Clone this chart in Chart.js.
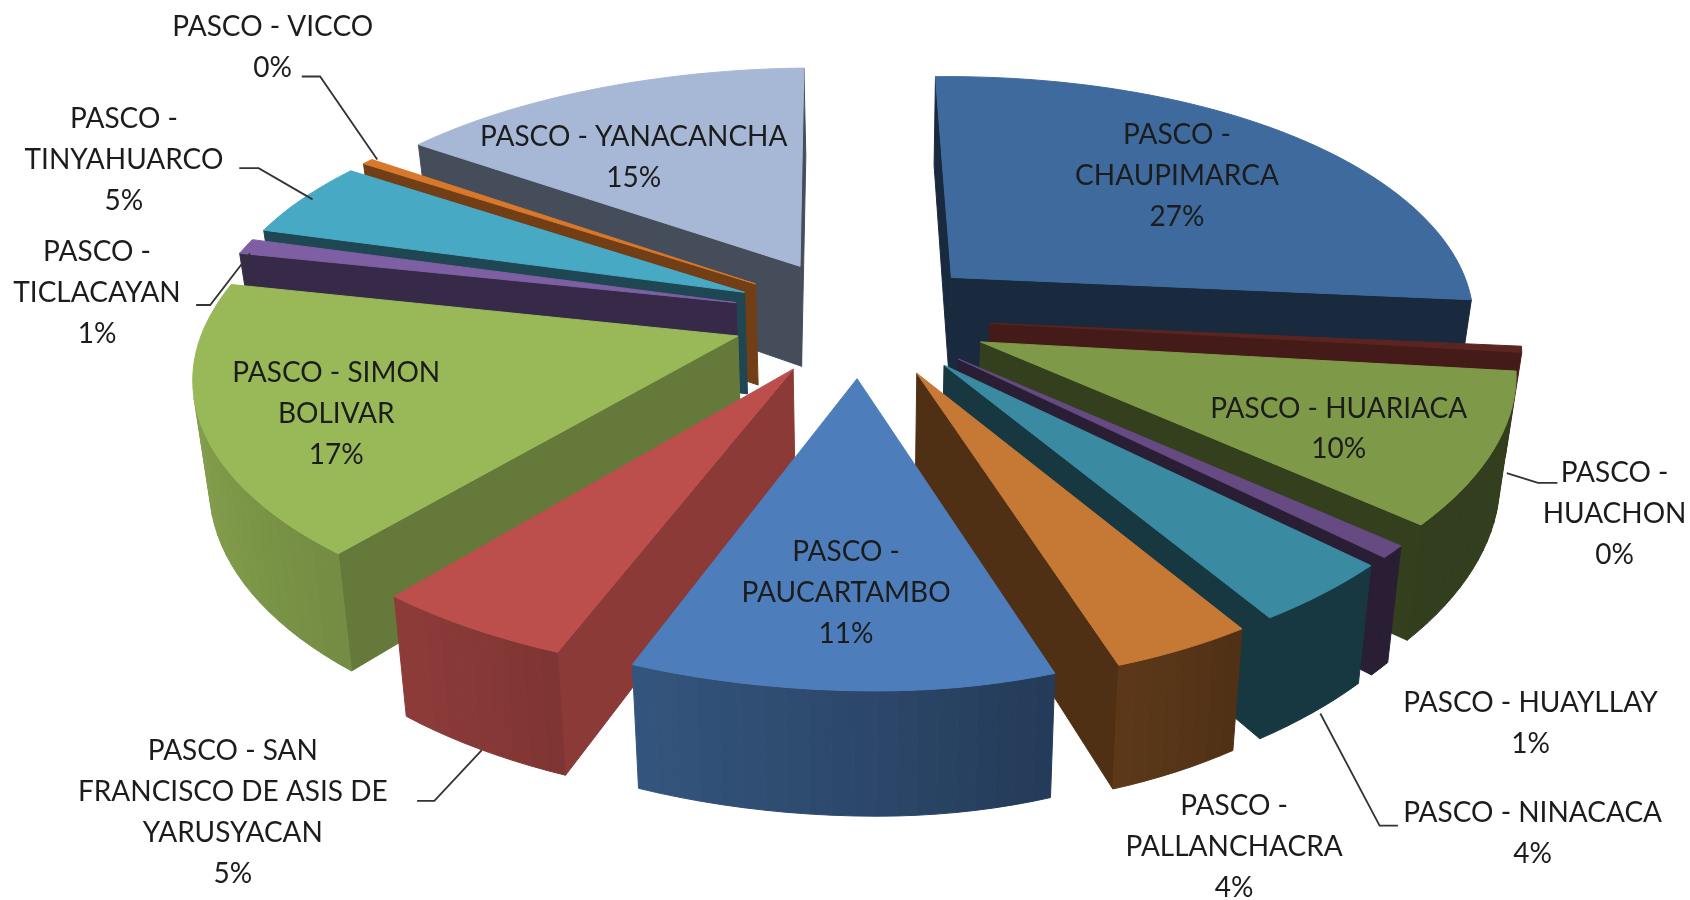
<!DOCTYPE html>
<html><head><meta charset="utf-8">
<style>html,body{margin:0;padding:0;background:#fff}canvas{display:block}</style>
<script src="https://cdn.jsdelivr.net/npm/chart.js@4"></script>
</head><body><canvas id="c" width="1690" height="900"></canvas>
<script>
const categories = ['PASCO - CHAUPIMARCA','PASCO - HUACHON','PASCO - HUARIACA','PASCO - HUAYLLAY','PASCO - NINACACA','PASCO - PALLANCHACRA','PASCO - PAUCARTAMBO','PASCO - SAN FRANCISCO DE ASIS DE YARUSYACAN','PASCO - SIMON BOLIVAR','PASCO - TICLACAYAN','PASCO - TINYAHUARCO','PASCO - VICCO','PASCO - YANACANCHA'];
const seriesValues = [27,0.4,9.8,0.8,4.0,3.9,11,5,17,1.0,5.0,0.4,14.7];
const topColors = ['#3e6a9e','#5a2420','#7e9a48','#664a82','#3a8ba2','#c67835','#4d7ebb','#bc4f4c','#99b958','#7e5fa3','#48a9c5','#d9782a','#a7b7d6'];
const sideShade = [0.4,0.75,0.41,0.41,0.4,0.4,0.45,0.74,0.66,0.44,0.42,0.52,0.42];
const labelLines = [['PASCO -','CHAUPIMARCA'],['PASCO -','HUACHON'],['PASCO - HUARIACA'],['PASCO - HUAYLLAY'],['PASCO - NINACACA'],['PASCO -','PALLANCHACRA'],['PASCO -','PAUCARTAMBO'],['PASCO - SAN','FRANCISCO DE ASIS DE','YARUSYACAN'],['PASCO - SIMON','BOLIVAR'],['PASCO -','TICLACAYAN'],['PASCO -','TINYAHUARCO'],['PASCO - VICCO'],['PASCO - YANACANCHA']];

// layout (reference pixels)
const F = 1690/1568;
const labelAnchors = [[1092,125],[1498,439],[1242,379],[1420,652],[1422,754],[1145,748],[785,512],[216,697],[312,346],[90,234],[115,110],[253,25],[588,127]];
const leaders = [
  [[1445,448],[1427,448],[1398,439]],
  [[1297,766],[1280,766],[1225,662]],
  [[387,743],[403,743],[447,696]],
  [[182,283],[195,283],[232,235]],
  [[222,156],[240,156],[290,185]],
  [[280,71],[297,71],[350,148]]
];
const view = {cx:861, cy:317, S:528, Sk:243, Dx:7, DxFrontRight:12, DxFrontLeft:6.2, Dy:6.5, H:103, taper:0.025, bow:14, roll:0.01};
function proj(u,v,z){
  const Dx = v<0 ? (u>0?view.DxFrontRight:view.DxFrontLeft) : view.Dx;
  const wx = Dx/(Dx+v), wy = view.Dy/(view.Dy+v), t = 1-view.taper*z;
  const dx = u*view.S*wx, rollAmt = view.roll*Math.min(1,Math.max(0,1+v));
  return [view.cx+view.bow*v*v+dx*t, view.cy-v*view.Sk*wy+z*view.H*(view.Dx/(view.Dx+v))+rollAmt*dx];
}
function shade(hex,f){
  const n=parseInt(hex.slice(1),16);
  return `rgb(${Math.round((n>>16&255)*f)},${Math.round((n>>8&255)*f)},${Math.round((n&255)*f)})`;
}
function area(p){let s=0;p.forEach((a,i)=>{const b=p[(i+1)%p.length];s+=a[0]*b[1]-b[0]*a[1];});return s;}
function poly(ctx,pts,fill){
  ctx.beginPath();pts.forEach((p,i)=>i?ctx.lineTo(p[0],p[1]):ctx.moveTo(p[0],p[1]));ctx.closePath();
  ctx.fillStyle=fill;ctx.strokeStyle=fill;ctx.lineWidth=1;ctx.fill();ctx.stroke();
}
const pie3d = {
  id:'pie3d',
  beforeDatasetDraw(chart){
    const ctx=chart.ctx, arcs=chart.getDatasetMeta(0).data;
    const items=arcs.map((a,i)=>{
      const mid=(a.startAngle+a.endAngle)/2, e=a.options.offset/a.outerRadius;
      return {a,i,mid,ou:Math.cos(mid)*e,ov:-Math.sin(mid)*e};
    });
    items.sort((p,q)=>Math.sin(p.mid)-Math.sin(q.mid));
    ctx.save();
    items.forEach(({a,i,ou,ov})=>{
      const col=a.options.backgroundColor, sa=a.startAngle, ea=a.endAngle;
      const n=Math.max(2,Math.ceil((ea-sa)/(Math.PI/90)));
      const rim=[];for(let j=0;j<=n;j++){const t=sa+(ea-sa)*j/n;rim.push([ou+Math.cos(t),ov-Math.sin(t),t]);}
      const wall=shade(col,sideShade[i]);
      const tip0=proj(ou,ov,0),tip1=proj(ou,ov,1);
      const first=rim[0],last=rim[n];
      const wa=[tip0,proj(first[0],first[1],0),proj(first[0],first[1],1),tip1];
      const wb=[tip0,proj(last[0],last[1],0),proj(last[0],last[1],1),tip1];
      if(area(wa)<0)poly(ctx,wa,wall);
      if(area(wb)>0)poly(ctx,wb,wall);
      for(let j=0;j<n;j++){
        const r=rim[j],s=rim[j+1];
        const theta=(r[2]+s[2])/2+Math.PI/2;
        const f=Math.max(0.4,0.56-0.3*Math.sin(theta));
        const q=[proj(r[0],r[1],0),proj(s[0],s[1],0),proj(s[0],s[1],1),proj(r[0],r[1],1)];
        if(area(q)<0)poly(ctx,q,shade(col,f));
      }
      poly(ctx,[tip0].concat(rim.map(r=>proj(r[0],r[1],0))),col);
    });
    ctx.restore();
    return false;
  },
  afterDatasetsDraw(chart){
    const ctx=chart.ctx,total=seriesValues.reduce((s,v)=>s+v,0);
    ctx.save();
    ctx.strokeStyle='#333';ctx.lineWidth=1.8;
    leaders.forEach(l=>{ctx.beginPath();l.forEach((p,i)=>i?ctx.lineTo(p[0]*F,p[1]*F):ctx.moveTo(p[0]*F,p[1]*F));ctx.stroke();});
    ctx.font='28px Lato';ctx.textAlign='center';ctx.textBaseline='middle';ctx.fillStyle='#1c1c1c';
    labelLines.forEach((lines,i)=>{
      const [x,y]=labelAnchors[i];
      lines.concat(Math.round(seriesValues[i]/total*100)+'%').forEach((t,j)=>ctx.fillText(t,x*F,(y+38*j)*F));
    });
    ctx.restore();
  }
};
new Chart(document.getElementById('c'),{
  type:'pie',
  data:{labels:categories,datasets:[{data:seriesValues,backgroundColor:topColors,borderWidth:0,offset:98}]},
  options:{responsive:false,animation:false,rotation:-3,layout:{padding:0},
    plugins:{legend:{display:false},tooltip:{enabled:false}}},
  plugins:[pie3d]
});
</script></body></html>
